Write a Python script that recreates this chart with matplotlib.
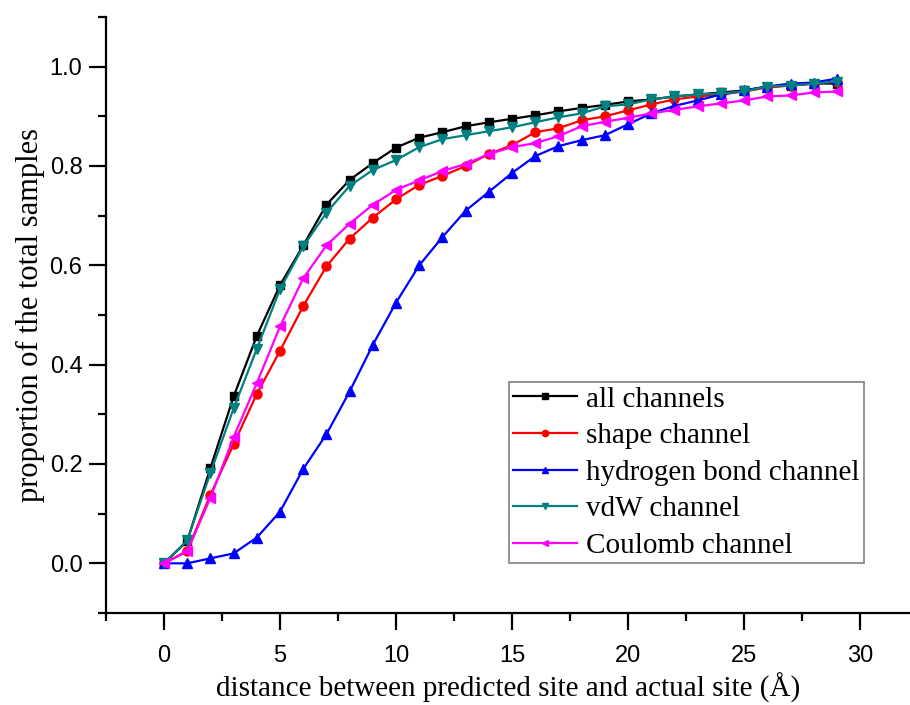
import numpy as np
import matplotlib
matplotlib.use('Agg')
import matplotlib.pyplot as plt
from matplotlib.ticker import MultipleLocator

# distance (Angstrom)
dist = list(range(30))

# proportions
all_ch = [0.0, 0.045, 0.192, 0.336, 0.458, 0.56, 0.64, 0.722, 0.772, 0.806,
          0.837, 0.857, 0.868, 0.88, 0.888, 0.895, 0.902, 0.91, 0.917, 0.923,
          0.93, 0.934, 0.94, 0.944, 0.948, 0.952, 0.96, 0.962, 0.966, 0.966]
shape_ch = [0.0, 0.025, 0.138, 0.24, 0.341, 0.428, 0.518, 0.598, 0.654, 0.696,
            0.733, 0.762, 0.78, 0.80, 0.824, 0.842, 0.868, 0.876, 0.892, 0.90,
            0.912, 0.924, 0.934, 0.94, 0.944, 0.95, 0.958, 0.962, 0.966, 0.97]
hbond_ch = [0.0, 0.0, 0.01, 0.02, 0.052, 0.104, 0.19, 0.26, 0.346, 0.44,
            0.525, 0.60, 0.657, 0.71, 0.748, 0.786, 0.82, 0.84, 0.852, 0.862,
            0.884, 0.906, 0.921, 0.932, 0.944, 0.952, 0.96, 0.966, 0.968, 0.976]
vdw_ch = [0.0, 0.046, 0.182, 0.312, 0.432, 0.552, 0.638, 0.706, 0.76, 0.792,
          0.812, 0.838, 0.854, 0.862, 0.87, 0.878, 0.888, 0.898, 0.906, 0.92,
          0.924, 0.934, 0.94, 0.944, 0.946, 0.95, 0.96, 0.962, 0.966, 0.97]
coul_ch = [0.0, 0.024, 0.132, 0.254, 0.363, 0.477, 0.574, 0.64, 0.684, 0.722,
           0.752, 0.771, 0.79, 0.804, 0.824, 0.838, 0.846, 0.86, 0.88, 0.889,
           0.897, 0.906, 0.913, 0.92, 0.926, 0.932, 0.94, 0.942, 0.948, 0.95]

labels = ['all channels', 'shape channel', 'hydrogen bond channel',
          'vdW channel', 'Coulomb channel']

fig = plt.figure(figsize=(9.1, 7.05), dpi=100)
ax = fig.add_axes([0.1165, 0.1305, 0.8835, 0.8454])

lw = 1.6
ax.plot(dist, all_ch, color='black', marker='s', ms=6, lw=lw, label=labels[0])
ax.plot(dist, shape_ch, color='#ff0000', marker='o', ms=6.5, lw=lw, label=labels[1])
ax.plot(dist, hbond_ch, color='#0000ff', marker='^', ms=7, lw=lw, label=labels[2])
ax.plot(dist, vdw_ch, color='#008080', marker='v', ms=7, lw=lw, label=labels[3])
ax.plot(dist, coul_ch, color='#ff00ff', marker='<', ms=7, lw=lw, label=labels[4])

ax.set_xlim(-2.5, 32.15)
ax.set_ylim(-0.1, 1.1)
ax.xaxis.set_major_locator(MultipleLocator(5))
ax.xaxis.set_minor_locator(MultipleLocator(2.5))
ax.yaxis.set_major_locator(MultipleLocator(0.2))
ax.yaxis.set_minor_locator(MultipleLocator(0.1))
ax.yaxis.set_major_formatter(plt.FuncFormatter(lambda v, p: '%.1f' % v))

for s in ['top', 'right']:
    ax.spines[s].set_visible(False)
for s in ['left', 'bottom']:
    ax.spines[s].set_linewidth(1.6)

ax.tick_params(which='major', direction='out', length=12, width=1.6,
               labelsize=17, pad=5)
ax.tick_params(which='minor', direction='out', length=6, width=1.6)
for t in ax.get_xticklabels() + ax.get_yticklabels():
    t.set_fontfamily('Liberation Sans')
ax.tick_params(axis='x', pad=11)

ax.set_xlabel('distance between predicted site and actual site (Å)',
              family='Liberation Serif', fontsize=21, labelpad=4)
ax.set_ylabel('proportion of the total samples',
              family='Liberation Serif', fontsize=22, labelpad=3.5)

leg = ax.legend(loc='upper left', bbox_to_anchor=(0.501, 0.388),
                prop={'family': 'Liberation Serif', 'size': 21},
                fancybox=False, edgecolor='#808080', framealpha=1,
                handlelength=2.2, markerscale=0.7, labelspacing=0.35,
                borderpad=0.15, handletextpad=0.3, borderaxespad=0)
leg.get_frame().set_linewidth(1.2)

plt.savefig('out.png', dpi=100)
